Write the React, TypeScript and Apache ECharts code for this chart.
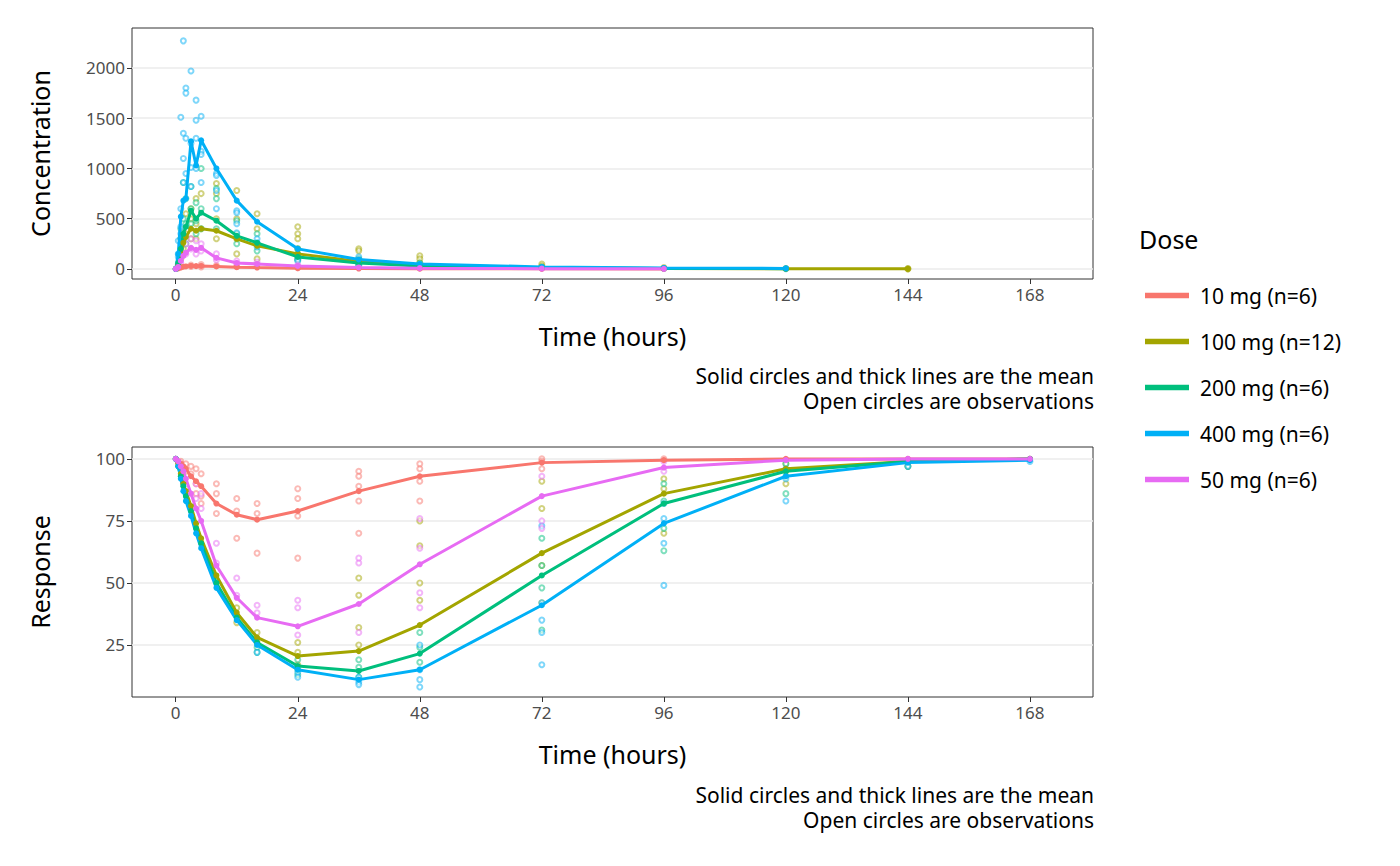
import { useEffect, useRef } from 'react';
import * as echarts from 'echarts';

const TIMES = [0, 0.5, 1, 1.5, 2, 3, 4, 5, 8, 12, 16, 24, 36, 48, 72, 96, 120, 144, 168];
const X_TICKS = [0, 24, 48, 72, 96, 120, 144, 168];

const DOSES = ['10 mg (n=6)', '100 mg (n=12)', '200 mg (n=6)', '400 mg (n=6)', '50 mg (n=6)'];
const COLORS = ['#F8766D', '#A3A500', '#00BF7D', '#00B0F6', '#E76BF3'];

// mean concentration per dose (same order as TIMES, stops where sampling stopped)
const CONC_10 = [0, 5, 15, 22, 25, 30, 28, 30, 25, 18, 14, 8, 4, 2, 1, 0.5];
const CONC_100 = [0, 40, 150, 260, 320, 400, 380, 400, 380, 300, 230, 150, 75, 35, 12, 5, 2, 1];
const CONC_200 = [0, 60, 200, 350, 420, 580, 500, 560, 480, 330, 260, 120, 60, 30, 10, 5, 3];
const CONC_400 = [0, 150, 520, 680, 700, 1270, 1030, 1280, 1000, 680, 470, 200, 95, 50, 20, 10, 5];
const CONC_50 = [0, 20, 80, 130, 160, 210, 190, 210, 110, 60, 50, 30, 15, 8, 3, 1];

// mean response per dose
const RESP_10 = [100, 99, 98, 97, 96, 93, 91, 89, 82, 77.5, 75.5, 79, 87, 93, 98.5, 99.5, 100, 100, 100];
const RESP_100 = [100, 98, 94, 90, 87, 81, 74, 68, 53, 38, 28, 20.5, 22.5, 33, 62, 86, 96, 99, 100];
const RESP_200 = [100, 97, 93, 89, 85, 79, 72, 66, 50, 36, 26, 16.5, 14.5, 21.5, 53, 82, 95, 99, 100];
const RESP_400 = [100, 97, 92, 87, 83, 77, 70, 64, 48, 35, 25, 15, 11, 15, 41, 74, 93, 98.5, 99.5];
const RESP_50 = [100, 99, 97, 95, 92, 86, 80, 75, 57, 44, 36, 32.5, 41.5, 57.5, 85, 96.5, 99.5, 100, 100];

// observations: [time, value]
const OBS_CONC_10 = [[1, 20], [3, 40], [3, 25], [5, 45], [5, 20], [8, 35], [12, 25], [24, 12]];
const OBS_CONC_100 = [[1, 300], [1, 200], [1, 100], [1.5, 400], [1.5, 300], [1.5, 200], [2, 550], [2, 350], [3, 600], [3, 500], [3, 300], [4, 700], [4, 450], [4, 300], [5, 750], [5, 400], [8, 850], [8, 750], [8, 500], [8, 300], [12, 780], [12, 500], [12, 300], [12, 150], [16, 550], [16, 400], [16, 250], [16, 100], [24, 420], [24, 350], [24, 300], [24, 200], [24, 100], [36, 200], [36, 180], [36, 100], [36, 50], [48, 130], [48, 100], [48, 60], [72, 50], [72, 30], [96, 15], [120, 5], [144, 3], [144, 1]];
const OBS_CONC_200 = [[1, 400], [1, 300], [1, 150], [1.5, 860], [1.5, 500], [1.5, 300], [2, 700], [2, 450], [2, 250], [3, 820], [3, 600], [3, 450], [4, 660], [4, 480], [4, 350], [5, 1000], [5, 600], [5, 400], [8, 800], [8, 700], [8, 400], [12, 480], [12, 350], [12, 250], [16, 350], [16, 250], [16, 180], [24, 200], [24, 150], [24, 90], [36, 100], [36, 70], [36, 40], [48, 60], [48, 30], [72, 20]];
const OBS_CONC_400 = [[0.5, 50], [0.5, 120], [0.5, 280], [0.5, 150], [1, 1510], [1, 420], [1, 600], [1, 350], [1.5, 2270], [1.5, 1350], [1.5, 860], [1.5, 1100], [2, 1800], [2, 1750], [2, 1300], [2, 950], [3, 1970], [3, 1250], [3, 820], [3, 1010], [4, 1680], [4, 1480], [4, 1300], [4, 1000], [5, 1520], [5, 1170], [5, 1140], [5, 860], [8, 950], [8, 930], [8, 780], [8, 600], [12, 580], [12, 560], [12, 450], [12, 360], [16, 300], [16, 260], [16, 220], [24, 130], [24, 100], [24, 80], [36, 120], [36, 60], [36, 40], [48, 30], [48, 20], [72, 12], [96, 5], [120, 3]];
const OBS_CONC_50 = [[1, 120], [1, 60], [2, 250], [2, 150], [3, 300], [3, 200], [4, 280], [4, 150], [5, 250], [5, 180], [8, 150], [8, 90], [12, 80], [12, 50], [16, 70], [16, 40], [24, 40], [24, 20], [48, 10]];

const OBS_RESP_10 = [[1, 99], [1, 98], [2, 98], [2, 95], [3, 97], [3, 94], [4, 96], [4, 90], [4, 86], [5, 94], [5, 85], [5, 82], [8, 90], [8, 86], [8, 78], [12, 84], [12, 79], [12, 68], [16, 82], [16, 78], [16, 62], [24, 88], [24, 84], [24, 77], [24, 60], [36, 95], [36, 93], [36, 89], [36, 83], [36, 70], [48, 98], [48, 96], [48, 91], [48, 83], [72, 100], [72, 99], [72, 96], [96, 100]];
const OBS_RESP_100 = [[12, 40], [12, 34], [16, 30], [16, 26], [24, 26], [24, 22], [24, 17], [36, 52], [36, 45], [36, 32], [36, 25], [48, 75], [48, 65], [48, 50], [48, 43], [72, 91], [72, 80], [72, 57], [72, 42], [96, 92], [96, 88], [96, 70], [120, 98], [120, 95], [120, 90], [144, 99], [144, 97]];
const OBS_RESP_200 = [[16, 24], [16, 22], [24, 19], [24, 15], [24, 13], [36, 19], [36, 16], [36, 12], [48, 30], [48, 24], [48, 18], [72, 68], [72, 57], [72, 48], [72, 31], [96, 90], [96, 83], [96, 72], [96, 63], [120, 98], [120, 93], [120, 86], [144, 99], [144, 97]];
const OBS_RESP_400 = [[16, 22], [24, 14], [24, 12], [36, 12], [36, 10], [36, 9], [48, 25], [48, 15], [48, 11], [48, 8], [72, 73], [72, 42], [72, 35], [72, 30], [72, 17], [96, 82], [96, 76], [96, 66], [96, 49], [120, 96], [120, 92], [120, 83], [144, 99], [144, 97], [168, 99]];
const OBS_RESP_50 = [[4, 90], [4, 84], [5, 86], [5, 80], [8, 66], [8, 58], [12, 52], [12, 45], [16, 41], [16, 38], [24, 43], [24, 40], [24, 29], [36, 60], [36, 58], [36, 30], [48, 76], [48, 64], [48, 46], [48, 40], [72, 93], [72, 75], [72, 72], [96, 99], [96, 95]];

const CONC_MEANS = [CONC_10, CONC_100, CONC_200, CONC_400, CONC_50];
const RESP_MEANS = [RESP_10, RESP_100, RESP_200, RESP_400, RESP_50];
const CONC_OBS = [OBS_CONC_10, OBS_CONC_100, OBS_CONC_200, OBS_CONC_400, OBS_CONC_50];
const RESP_OBS = [OBS_RESP_10, OBS_RESP_100, OBS_RESP_200, OBS_RESP_400, OBS_RESP_50];

const FONT = 'Noto Sans';
const CAPTION_1 = 'Solid circles and thick lines are the mean';
const CAPTION_2 = 'Open circles are observations';

function xAxisFor(gridIndex: number) {
  return {
    type: 'value',
    gridIndex,
    min: -8.6,
    max: 180.4,
    name: 'Time (hours)',
    nameLocation: 'middle',
    nameGap: 44,
    nameTextStyle: { fontSize: 25, color: '#000', fontFamily: FONT },
    axisLine: { show: false, onZero: false },
    axisTick: { show: true, length: 5, lineStyle: { color: '#333' }, customValues: X_TICKS },
    axisLabel: { fontSize: 17, color: '#4d4d4d', fontFamily: FONT, margin: 7, customValues: X_TICKS },
    splitLine: { show: false },
  };
}

function yAxisFor(gridIndex: number, name: string, min: number, max: number, ticks: number[]) {
  return {
    type: 'value',
    gridIndex,
    min,
    max,
    name,
    nameLocation: 'middle',
    nameGap: 80,
    nameTextStyle: { fontSize: 25, color: '#000', fontFamily: FONT },
    axisLine: { show: false, onZero: false },
    axisTick: { show: true, length: 5, lineStyle: { color: '#333' }, customValues: ticks },
    axisLabel: { fontSize: 17, color: '#4d4d4d', fontFamily: FONT, margin: 7, customValues: ticks, formatter: (v: number) => String(v) },
    splitLine: { show: true, lineStyle: { color: '#ebebeb', width: 1.5 } },
  };
}

export default function App() {
  const ref = useRef<HTMLDivElement>(null);

  useEffect(() => {
    if (!ref.current) return;
    const chart = echarts.init(ref.current, undefined, { renderer: 'svg' });

    const series: any[] = [];
    DOSES.forEach((dose, i) => {
      series.push({
        name: 'obs-c-' + i,
        type: 'scatter',
        xAxisIndex: 0,
        yAxisIndex: 0,
        data: CONC_OBS[i],
        symbol: 'emptyCircle',
        symbolSize: 5,
        itemStyle: { color: COLORS[i], borderColor: COLORS[i], borderWidth: 1, opacity: 0.5 },
        z: 1,
      });
      series.push({
        name: 'obs-r-' + i,
        type: 'scatter',
        xAxisIndex: 1,
        yAxisIndex: 1,
        data: RESP_OBS[i],
        symbol: 'emptyCircle',
        symbolSize: 5,
        itemStyle: { color: COLORS[i], borderColor: COLORS[i], borderWidth: 1, opacity: 0.5 },
        z: 1,
      });
    });
    DOSES.forEach((dose, i) => {
      series.push({
        name: dose,
        type: 'line',
        xAxisIndex: 0,
        yAxisIndex: 0,
        data: CONC_MEANS[i].map((v, k) => [TIMES[k], v]),
        symbol: 'circle',
        symbolSize: 6,
        lineStyle: { color: COLORS[i], width: 3 },
        itemStyle: { color: COLORS[i] },
        z: 3,
      });
      series.push({
        name: dose,
        type: 'line',
        xAxisIndex: 1,
        yAxisIndex: 1,
        data: RESP_MEANS[i].map((v, k) => [TIMES[k], v]),
        symbol: 'circle',
        symbolSize: 6,
        lineStyle: { color: COLORS[i], width: 3 },
        itemStyle: { color: COLORS[i] },
        z: 3,
      });
    });

    const caption = (y: number, text: string) => ({
      type: 'text',
      right: 1400 - 1094,
      top: y,
      style: { text, fontSize: 21, fill: '#000', fontFamily: FONT, textAlign: 'right' },
    });

    chart.setOption({
      animation: false,
      textStyle: { fontFamily: FONT },
      grid: [
        { left: 132, top: 28, width: 961, height: 251, show: true, borderColor: '#333', borderWidth: 1, backgroundColor: '#fff' },
        { left: 132, top: 447, width: 961, height: 250, show: true, borderColor: '#333', borderWidth: 1, backgroundColor: '#fff' },
      ],
      xAxis: [xAxisFor(0), xAxisFor(1)],
      yAxis: [
        yAxisFor(0, 'Concentration', -100, 2398, [0, 500, 1000, 1500, 2000]),
        yAxisFor(1, 'Response', 4, 104.8, [25, 50, 75, 100]),
      ],
      legend: {
        data: DOSES.map((name) => ({ name, icon: 'path://M0,9 L16,9 L16,11 L0,11 Z' })),
        orient: 'vertical',
        left: 1140,
        top: 280,
        itemGap: 25,
        itemWidth: 44,
        itemHeight: 22,
        textStyle: { fontSize: 21, color: '#000', fontFamily: FONT, padding: [0, 0, 0, 6] },
        selectedMode: false,
      },
      graphic: [
        { type: 'text', left: 1139, top: 226, style: { text: 'Dose', fontSize: 25, fill: '#000', fontFamily: FONT } },
        caption(365, CAPTION_1),
        caption(390, CAPTION_2),
        caption(784, CAPTION_1),
        caption(809, CAPTION_2),
      ],
      series,
    });

    return () => chart.dispose();
  }, []);

  return <div ref={ref} style={{ position: 'fixed', left: 0, top: 0, width: 1400, height: 866, background: '#fff' }} />;
}
